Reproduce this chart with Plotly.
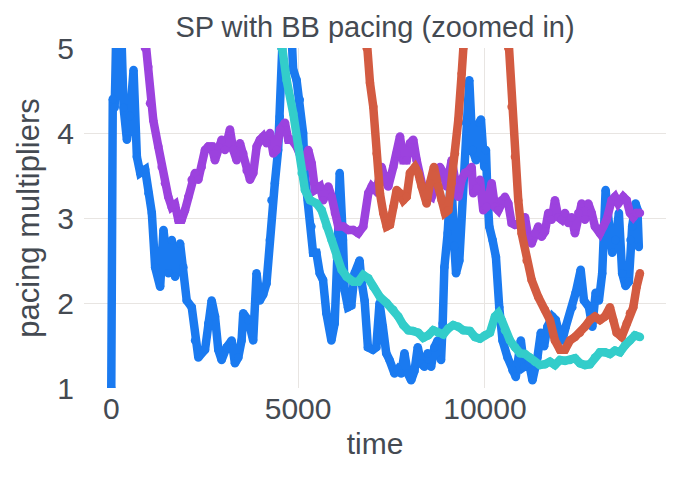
import plotly.graph_objects as go

# time / value pairs
blue_t = [0, 40, 90, 150, 240, 329, 418, 500, 596, 685, 774, 907, 996, 1085, 1174, 1308, 1397, 1530, 1619, 1708,
          1841, 1930, 2019, 2153, 2242, 2330, 2509, 2597, 2686, 2776, 2864, 2953, 3087, 3221, 3309, 3398, 3487, 3531,
          3665, 3798, 3887, 3976, 4065, 4154, 4243, 4288, 4377, 4465, 4510, 4555, 4650, 4780, 4866, 4960, 5044, 5133,
          5177, 5266, 5356, 5400, 5489, 5578, 5667, 5756, 5890, 5978, 6067, 6112, 6200, 6245, 6334, 6424, 6512, 6645,
          6691, 6779, 6868, 7001, 7091, 7179, 7268, 7358, 7446, 7579, 7668, 7758, 7846, 7935, 8025, 8113, 8202, 8292,
          8380, 8469, 8559, 8647, 8736, 8825, 8869, 8914, 9002, 9093, 9181, 9226, 9314, 9403, 9493, 9581, 9669, 9760,
          9848, 9893, 9981, 10026, 10069, 10115, 10204, 10294, 10382, 10470, 10604, 10737, 10826, 10960, 11049, 11182,
          11271, 11404, 11495, 11583, 11671, 11804, 11895, 11983, 12072, 12162, 12338, 12428, 12562, 12650, 12784,
          12873, 12962, 13050, 13138, 13229, 13317, 13406, 13496, 13584, 13672, 13763, 13850, 13896, 13940, 14030,
          14080, 14118]
blue_v = [1.0, 4.4, 4.3, 5.4, 5.6, 4.3, 3.92, 4.2, 4.74, 3.72, 3.53, 3.57, 3.29, 3.06, 2.42, 2.19, 2.86, 2.35, 2.74, 2.31,
          2.7, 2.42, 2.03, 1.95, 1.56, 1.36, 1.45, 1.76, 2.03, 1.84, 1.45, 1.33, 1.48, 1.56, 1.29, 1.36, 1.56, 1.88,
          1.8, 1.56, 2.35, 2.03, 2.1, 2.23, 2.74, 3.21, 3.41, 3.8, 4.19, 5.0, 5.8, 5.6, 4.75, 4.62, 4.39, 4.0,
          3.53, 3.21, 2.9, 2.59, 2.59, 2.35, 2.27, 1.88, 1.56, 1.76, 2.74, 3.53, 2.74, 2.15, 1.95, 1.97, 2.35, 2.5,
          2.27, 2.03, 1.48, 1.45, 1.48, 2.0, 1.72, 1.41, 1.33, 1.17, 1.22, 1.17, 1.41, 1.17, 1.09, 1.2, 1.48, 1.29,
          1.25, 1.41, 1.25, 1.48, 1.56, 1.33, 1.76, 2.42, 2.82, 3.53, 2.67, 2.35, 2.5, 3.33, 4.12, 4.62, 3.8, 3.68,
          4.12, 4.16, 3.6, 3.8, 3.25, 2.9, 2.74, 2.54, 1.95, 1.56, 1.36, 1.21, 1.13, 1.56, 1.25, 1.29,
          1.09, 1.36, 1.65, 1.49, 1.72, 1.84, 1.8, 1.65, 1.56, 1.72, 1.95, 2.12, 2.39, 2.03, 1.95,
          1.72, 2.12, 2.03, 2.35, 3.33, 2.94, 2.59, 2.74, 3.06, 2.35, 2.2, 2.25, 2.74, 2.9, 3.17,
          3.1, 2.66]

purple_t = [600, 902, 990, 1036, 1124, 1258, 1349, 1437, 1525, 1616, 1705, 1793, 1884, 1972, 2060, 2151, 2240, 2328,
            2419, 2507, 2596, 2687, 2775, 2863, 2954, 3043, 3176, 3265, 3356, 3444, 3532, 3623, 3712, 3800, 3891, 3979,
            4067, 4158, 4247, 4335, 4426, 4514, 4648, 4737, 4827, 4961, 5050, 5183, 5272, 5363, 5451, 5585, 5673, 5807,
            5898, 5986, 6074, 6208, 6342, 6476, 6610, 6743, 6877, 6968, 7057, 7145, 7236, 7324, 7412, 7546, 7637, 7726,
            7814, 7905, 7993, 8081, 8172, 8261, 8349, 8440, 8574, 8708, 8796, 8884, 8975, 9109, 9197, 9286, 9377, 9465,
            9553, 9644, 9687, 9778, 9866, 9955, 10045, 10179, 10268, 10356, 10447, 10535, 10624, 10714, 10803, 10937,
            11071, 11159, 11250, 11338, 11426, 11517, 11606, 11694, 11785, 11873, 11962, 12052, 12141, 12229, 12320,
            12408, 12497, 12588, 12676, 12764, 12855, 12943, 13077, 13166, 13256, 13390, 13479, 13567, 13701, 13792,
            13880, 13969, 14059, 14148]
purple_v = [6.5, 5.0, 4.78, 4.35, 4.15, 3.84, 3.6, 3.41, 3.25, 3.13, 3.16, 2.98, 2.98, 3.09, 3.25, 3.45, 3.53, 3.45,
            3.6, 3.8, 3.84, 3.84, 3.68, 3.84, 3.92, 3.8, 4.04, 3.8, 3.68, 3.88, 3.76, 3.56, 3.45, 3.53, 3.84, 3.92,
            3.96, 3.88, 4.0, 3.76, 3.8, 4.04, 4.12, 3.92, 3.92, 3.84, 3.76, 3.6, 3.8, 3.64, 3.33, 3.37, 3.21, 3.37,
            3.25, 3.06, 2.9, 2.9, 2.86, 2.86, 2.82, 2.9, 3.29, 3.37, 3.33, 3.41, 3.6, 3.45, 3.37, 3.6, 3.76, 3.96,
            3.68, 3.68, 3.88, 3.92, 3.68, 3.45, 3.33, 3.29, 3.25, 3.45, 3.6, 3.53, 3.37, 3.68, 3.45, 3.25, 3.45, 3.53,
            3.55, 3.6, 3.29, 3.35, 3.45, 3.09, 3.13, 3.41, 3.13, 3.09, 3.21, 3.25, 3.17, 2.94, 2.92, 2.94,
            3.01, 2.78, 2.7, 2.82, 2.9, 2.78, 2.84, 3.06, 2.98, 3.21, 3.01, 2.98, 3.06, 2.94, 3.01,
            2.82, 3.06, 3.17, 2.98, 3.17, 3.06, 2.9, 2.82, 2.9, 2.98, 3.21, 3.25, 3.17, 3.25, 3.21,
            3.06, 3.01, 3.06, 3.06]

red_t = [6750, 6834, 6923, 7011, 7102, 7190, 7279, 7370, 7458, 7546, 7637, 7726, 7814, 7905, 7993, 8127, 8215, 8306,
         8440, 8528, 8635, 8750, 8841, 8930, 9018, 9109, 9197, 9286, 9377, 9419, 9800, 10300, 10624, 10714, 10803,
         10891, 10982, 11116, 11250, 11426, 11606, 11739, 11873, 12007, 12141, 12274, 12408, 12542, 12676, 12809,
         12943, 13077, 13211, 13345, 13433, 13524, 13658, 13792, 13880, 13969, 14059, 14148]
red_v = [5.6, 5.0, 4.59, 4.31, 3.76, 3.29, 3.06, 2.9, 2.92, 3.13, 3.33, 3.29, 3.21, 3.25, 3.53, 3.6, 3.53, 3.37,
         3.17, 3.41, 3.6, 3.37, 3.21, 3.06, 3.09, 3.41, 3.76, 4.15, 4.7, 5.0, 7.5, 7.5, 5.0, 4.31, 3.72,
         3.21, 2.82, 2.5, 2.27, 2.07, 1.92, 1.8, 1.56, 1.45, 1.45, 1.56, 1.6, 1.65, 1.72, 1.8,
         1.84, 1.8, 1.84, 1.95, 1.8, 1.65, 1.6, 1.76, 1.88, 1.95, 2.19, 2.35]

teal_t = [4450, 4560, 4694, 4870, 5004, 5095, 5183, 5317, 5496, 5630, 5764, 5898, 6031, 6165, 6299, 6476, 6610, 6743,
          6877, 7011, 7190, 7370, 7546, 7680, 7814, 7948, 8081, 8215, 8349, 8483, 8617, 8750, 8884, 9018, 9152, 9286,
          9419, 9599, 9733, 9866, 10000, 10134, 10268, 10356, 10447, 10535, 10669, 10803, 10937, 11071, 11204, 11338,
          11472, 11606, 11739, 11873, 12007, 12141, 12274, 12408, 12542, 12676, 12809, 12943, 13077, 13211, 13345,
          13479, 13613, 13746, 13880, 14014, 14148]
teal_v = [5.4, 5.0, 4.62, 4.23, 3.84, 3.53, 3.33, 3.21, 3.17, 3.09, 2.9, 2.74, 2.54, 2.39, 2.31, 2.25, 2.25, 2.33,
          2.29, 2.19, 2.07, 2.0, 1.92, 1.84, 1.74, 1.68, 1.67, 1.65, 1.59, 1.62, 1.68, 1.65, 1.63, 1.7, 1.74, 1.72,
          1.68, 1.67, 1.6, 1.58, 1.62, 1.65, 1.84, 1.88, 1.8, 1.68, 1.56, 1.48, 1.41, 1.4, 1.36, 1.31,
          1.27, 1.28, 1.31, 1.27, 1.33, 1.32, 1.33, 1.35, 1.29, 1.27, 1.28, 1.36, 1.42, 1.42, 1.4,
          1.44, 1.42, 1.5, 1.56, 1.62, 1.6]

series = [
    (blue_t, blue_v, "#1a7af0"),
    (purple_t, purple_v, "#9c42de"),
    (red_t, red_v, "#d35b41"),
    (teal_t, teal_v, "#33cdca"),
]

fig = go.Figure()
for t, v, color in series:
    # markers the size of the stroke give the rounded joins seen in the picture
    fig.add_trace(go.Scatter(x=t, y=v, mode="lines+markers", line=dict(color=color, width=8.5),
                             marker=dict(color=color, size=8.5, line=dict(width=0)), showlegend=False))

# the page adds an 8px body margin, so the figure is a bit smaller than the window
font = "Liberation Sans, Arial, sans-serif"
fig.update_layout(
    width=672, height=477,
    margin=dict(l=76, r=14, t=40, b=97),
    paper_bgcolor="white", plot_bgcolor="white",
    font=dict(family=font, color="#444a52"),
    title=dict(text="SP with BB pacing (zoomed in)", x=0.5, xref="paper", y=1 - 19 / 477, yanchor="middle",
               font=dict(size=29, color="#444a52")),
)
fig.update_xaxes(range=[-730, 14845], dtick=5000, tick0=0, tickformat="d", gridcolor="#e8e5e2",
                 zeroline=False, showline=False, ticks="", tickfont=dict(size=30),
                 title=dict(text="time", font=dict(size=30), standoff=8))
fig.update_yaxes(range=[1, 5], dtick=1, gridcolor="#e8e5e2", zeroline=False, showline=False,
                 ticks="outside", ticklen=3, tickcolor="rgba(0,0,0,0)", tickfont=dict(size=30),
                 title=dict(text="pacing multipliers", font=dict(size=31), standoff=8))

fig.write_html("out.html")
